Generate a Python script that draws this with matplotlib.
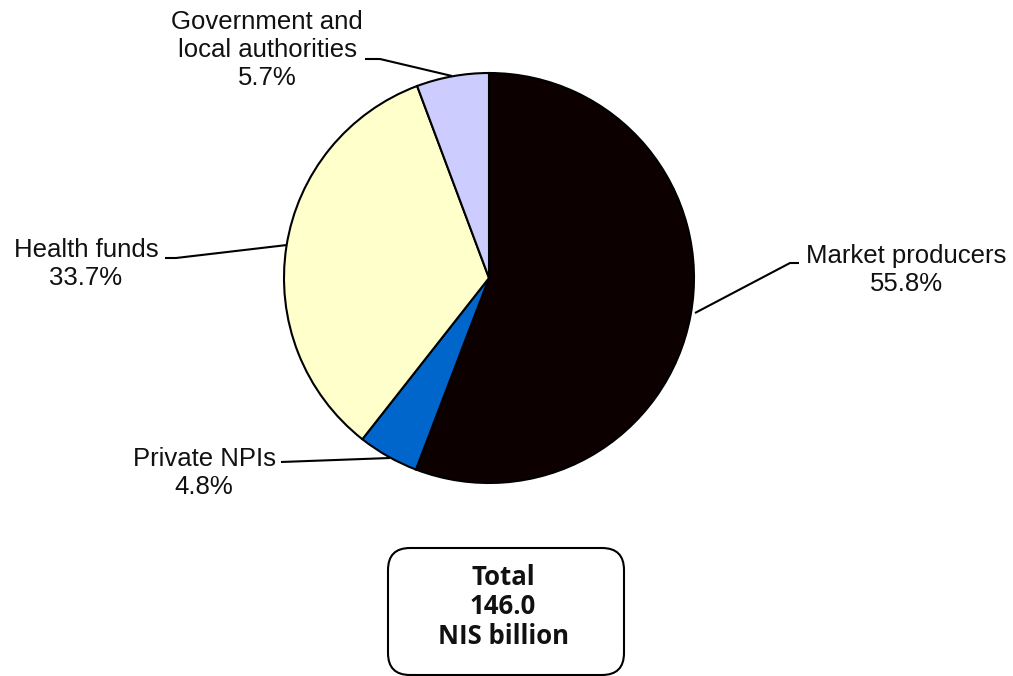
import matplotlib.pyplot as plt
from matplotlib.patches import FancyBboxPatch

# Output of health services by producer
sectors = ['Market producers', 'Private NPIs', 'Health funds',
           'Government and\nlocal authorities']
shares = [55.8, 4.8, 33.7, 5.7]
colours = ['#0d0000', '#0066cc', '#ffffcc', '#ccccff']
total = 146.0

fig = plt.figure(figsize=(10.13, 6.76), dpi=100)
ax = fig.add_axes([0, 0, 1, 1])

cx, cy, r = 489, 398, 205
ax.pie(shares, colors=colours, startangle=90, counterclock=False,
       center=(cx, cy), radius=r, frame=True,
       wedgeprops=dict(edgecolor='black', linewidth=1.5))
ax.set_xlim(0, 1013)
ax.set_ylim(0, 676)
ax.set_aspect('equal')
ax.axis('off')

lab_font = dict(family='Liberation Sans', fontsize=18.5, color='#111111',
                ha='center', va='center', linespacing=1.2)

# label text position, leader line points
labels = [
    ((906, 406), [(799, 413), (790, 413), (695, 363)]),
    ((204, 203), [(281, 214), (390, 218)]),
    ((86, 412), [(165, 418), (176, 418), (287, 431)]),
    ((267, 626), [(365, 617), (380, 617), (452, 600)]),
]
for name, pct, (tpos, pts) in zip(sectors, shares, labels):
    ax.text(tpos[0], tpos[1], f'{name}\n{pct:.1f}%', **lab_font)
    xs, ys = zip(*pts)
    ax.plot(xs, ys, color='black', lw=1.5, solid_capstyle='butt')

box = FancyBboxPatch((388, 1), 236, 127, boxstyle='round,pad=0,rounding_size=22',
                     facecolor='white', edgecolor='black', linewidth=1.5)
ax.add_patch(box)
ax.text(503, 69, f'Total\n{total:.1f}\nNIS billion', family='Open Sans',
        fontweight='bold', fontsize=18.5, ha='center', va='center',
        linespacing=1.14, color='#111111')

fig.savefig('out.png', dpi=100)
